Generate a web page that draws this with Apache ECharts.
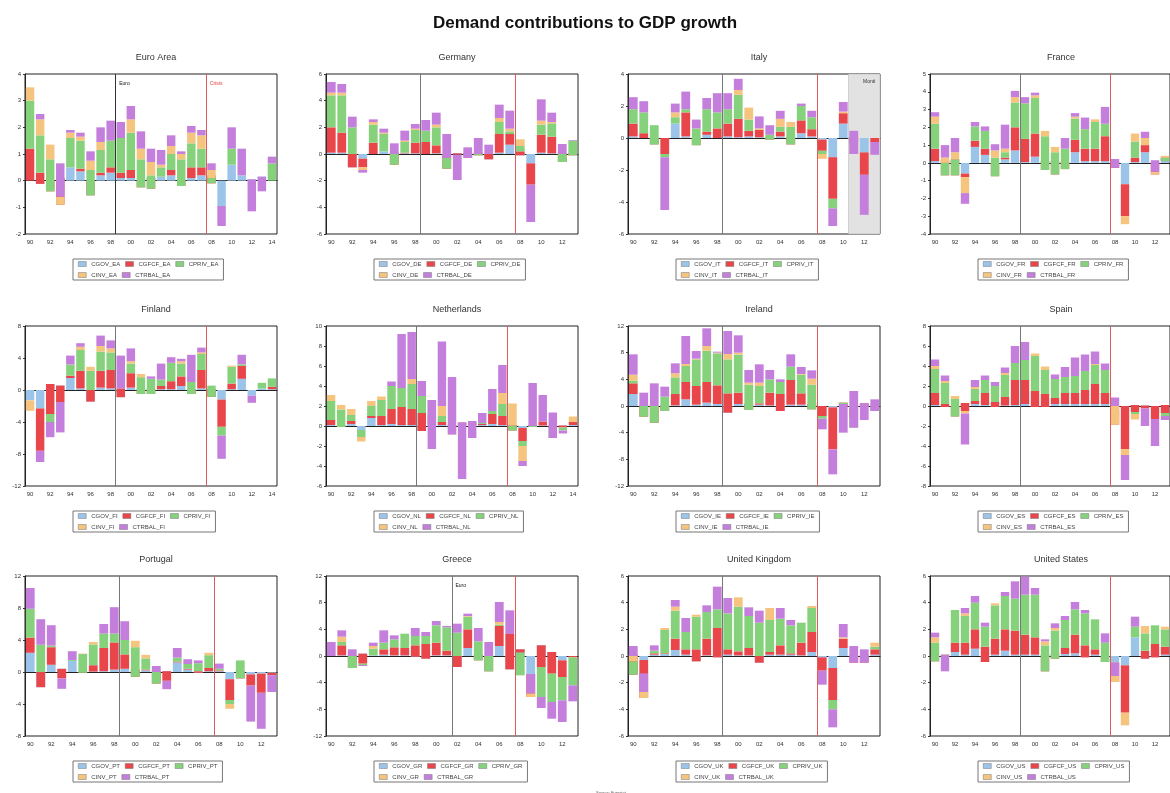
<!DOCTYPE html>
<html>
<head>
<meta charset="utf-8">
<script src="https://cdn.jsdelivr.net/npm/echarts@6/dist/echarts.min.js"></script>
<style>html,body{margin:0;padding:0;background:#fff}#main{width:1170px;height:793px}</style>
</head>
<body>
<div id="main"></div>
<script>
var chart = echarts.init(document.getElementById('main'));

var years = ['1990','1991','1992','1993','1994','1995','1996','1997','1998','1999','2000','2001','2002',
             '2003','2004','2005','2006','2007','2008','2009','2010','2011','2012','2013','2014'];
var parts = ['CGOV', 'CGFCF', 'CPRIV', 'CINV', 'CTRBAL'];
var colors = ['#9cc4e8', '#e8464b', '#86d27c', '#f5c47e', '#c47fdc'];

// contributions, one row per year from 1990, columns in the order of parts
var EA = [[0,1.2,1.8,0.5,0],[-0.12,0.42,1.4,0.6,0.2],[0,-0.4,1.2,0.55,0],[0.1,-1.0,0,0.3,1.25],[0.5,0,1.1,0.2,0.1],
  [0.35,0.1,1.05,0.15,0.15],[0,-0.55,0.95,0.35,0.35],[0.2,0.1,0.85,0.3,0.55],[0.3,0.2,1.0,0,0.75],[0.1,0.2,1.3,0,0.6],
  [0.1,0.3,1.4,0.5,0.5],[0,-0.25,1.05,0.4,0.65],[0.1,-0.4,0.5,0.5,0.5],[0.15,0,0.35,0.1,0.55],[0.2,0.2,0.6,0.3,0.4],
  [0,-0.2,1.0,0.2,0.1],[0.1,0.4,0.9,0.4,0.25],[0.2,0.3,0.7,0.5,0.2],[0.2,-0.3,0.2,0.3,0.25],[-0.95,0,0,0,-0.75],
  [0.6,0,0.6,0,0.8],[0.2,0,0,0,1.0],[0.05,0,0,0,-1.2],[0.15,0,0,0,-0.55],[0,0,0.65,0,0.25]];
var DE = [[0.1,1.9,2.4,0.2,0.8],[0.1,1.5,2.8,0.2,0.65],[-1.0,1.0,2.0,0,0.8],[-0.35,-0.65,0,-0.2,-0.2],[0,0.85,1.35,0.2,0.2],
  [0.2,0,1.3,0.1,0.3],[0.1,-0.9,0.8,0,0.8],[0.05,0.05,0.8,0.1,0.75],[0.05,0.8,0.95,0.1,0.35],[0,0.9,0.85,0,0.8],
  [0.05,0.6,1.35,0.2,0.9],[0,-1.1,0.8,0,1.8],[0.05,-0.1,0,0,-1.9],[0.05,-0.15,-0.2,0,0.8],[0.1,-0.2,0.1,0,1.2],
  [-0.4,0.4,0,0,0.7],[0.1,1.4,0.9,0.3,1.0],[0.7,0.8,0.2,0.2,1.35],[-0.1,0.3,0.4,0.5,0],[-0.7,-1.6,0,0,-2.8],
  [0.1,1.35,0.75,0.3,1.6],[0.05,1.25,1.0,0.1,0.7],[0.05,-0.65,0.6,0,0.75],[0.05,-0.15,1.1,0,0.05]];
var IT = [[0.1,0.8,0.9,0,0.75],[0,0.3,1.3,0,0.7],[0,-0.4,1.2,0,0],[0,-1.0,-0.2,0,-3.3],[0.9,0,0.4,0.3,0.55],
  [0.1,1.5,0.2,0,1.1],[0,-0.45,1.05,0,0.55],[0.2,0.2,1.4,0,0.7],[0,0.6,1.0,0,1.2],[0.1,0.8,0.9,0,1.0],
  [0.05,1.15,1.5,0.3,0.7],[0.1,0.35,0.7,0.75,0],[0.05,0.45,0,0.1,0.75],[0.05,-0.15,0.3,0,0.6],[0.1,0.3,0.3,0.5,0.5],
  [0.05,-0.45,1.1,0.3,0],[0.3,0.8,0.9,0,0.15],[0.1,0.45,0.75,0,0.4],[-0.1,-0.7,-0.2,-0.3,0],[-1.2,-2.6,-0.6,0,-1.1],
  [0.9,0.65,0,0.1,0.6],[0.05,-0.3,-0.2,-0.55,1.45],[-0.9,-1.4,0,0,-2.5],[0,-0.25,0,0,-0.8]];
var FR = [[0.1,0.7,1.4,0.4,0.25],[0.15,-0.85,0.7,0.3,0.7],[0.2,-0.9,0.9,0.4,0.8],[-0.6,-0.2,0,-0.9,-0.6],[0.9,0.35,0.8,0,0.25],
  [0.45,0.35,1.0,0,0.25],[0,-0.75,1.05,0.4,0.35],[0.2,0.1,0.3,0.2,1.35],[0.7,1.3,1.4,0.3,0.35],[0.05,1.3,2.0,0,0.35],
  [0.35,1.3,2.0,0.15,0.15],[0.1,-0.5,1.9,0.3,0],[0.1,-0.75,1.25,0.3,0],[0.05,-0.4,1.15,0,0.6],[0.6,0.7,1.2,0.1,0.2],
  [0.1,0.7,1.1,0,0.65],[0.1,0.7,1.5,0.15,0],[0.1,1.4,0.7,0,0.95],[0.05,-0.33,0,0,0.5],[-1.2,-1.8,0,-0.45,0],
  [0.05,0.25,0.9,0.45,0],[0.6,0.4,0,0.4,0.35],[0.05,-0.7,0,0.15,0.65],[0.3,-0.2,0.2,0.1,0]];
var FI = [[-1.3,0,0,-1.3,0],[-2.3,-5.3,0,0,-1.4],[0.75,-3.75,-1.0,0,-1.9],[0.55,-2.05,0,0,-3.8],[1.5,0.3,1.4,0,1.1],
  [0.2,2.2,2.6,0.4,0.45],[-1.45,1.45,2.4,0.5,0],[0.3,2.1,2.4,0.7,1.3],[0.2,2.3,2.2,0.5,1.0],[-0.9,1.1,0,0,4.1],
  [0.3,1.8,1.2,0.3,1.6],[0.1,-0.6,2.1,0.4,0],[0.1,-0.6,1.9,0,0.3],[0.1,0.4,0.8,0,2.0],[0.1,1.0,2.3,0,0.7],
  [0.5,1.2,1.6,0.3,0.3],[0.1,-0.6,1.5,0,3.4],[0.2,2.3,2.0,0.2,0.6],[0.1,-0.95,1.4,0,0],[-1.2,-3.4,-1.1,0,-2.9],
  [0.1,0.7,2.1,0.15,0],[1.4,1.6,0.2,0,1.2],[-0.7,0,0,0,-0.9],[0.2,0,0.7,0,0],[0.1,0.3,1.05,0,0]];
var NL = [[0.1,0.5,1.9,0.6,0],[0.05,-0.15,1.75,0.45,0],[0.2,0.3,0.6,0.6,0],[-0.4,0,-0.7,-0.45,0],[0.8,0.2,1.0,0.5,0],
  [0.1,0.9,1.6,0.35,0],[0.2,1.5,2.3,0,0.45],[0.1,1.8,1.9,0,5.4],[0.1,1.6,2.5,0.5,4.7],[-0.5,1.8,1.7,0,1.5],
  [0.2,0.9,1.5,0,-4.9],[0.1,0.3,0.6,1.0,6.45],[0.1,-0.2,-0.3,-0.45,5.75],[0.1,0.25,0,0,-5.65],[0.1,0.2,0.2,0,-1.7],
  [0.1,0.1,0.1,0,1.0],[0.2,1.0,0.3,0,2.2],[0.1,0.9,1.2,1.1,2.8],[0.1,-0.55,0.5,2.2,0],[-0.2,-1.3,-0.5,-1.5,-0.5],
  [0.1,-0.2,0.1,0,4.3],[0.05,0.4,0,0,2.65],[0.05,-0.3,-0.95,0,2.55],[0.05,-0.2,-0.3,0,-0.3],[0.1,0.3,0,0.55,0]];
var IE = [[1.8,1.6,0.4,0.9,3.05],[0.1,-1.7,1.6,0,2.0],[0,-2.5,2.5,0,3.4],[0.1,-0.85,2.15,0,1.5],[0.1,1.7,2.5,0.6,1.5],
  [1.0,2.6,2.4,0.3,4.2],[0.2,2.8,4.0,0.1,1.15],[0.5,3.1,4.7,0.7,2.65],[0.3,2.8,4.8,0.1,0.15],[-1.0,2.9,5.1,0.8,3.45],
  [0.3,1.7,5.7,0.3,2.6],[0.3,-0.9,3.8,0.3,1.9],[0.2,0.2,2.6,0.5,2.75],[0.1,1.9,2.0,0,1.4],[-0.75,2.55,1.8,0,0.4],
  [0.2,3.7,2.0,0,1.85],[0.2,1.7,2.8,0.1,1.05],[0.3,-0.8,3.7,0.9,1.25],[0,-1.5,-0.4,0,-1.6],[-0.2,-6.3,0,0,-3.75],
  [0,0.5,-0.2,0,-4.3],[-0.3,-1.5,-1.45,0,5.5],[0.1,0.3,0,0,-2.5],[0.1,-0.3,-0.55,0,1.75]];
var ES = [[0.1,1.2,2.4,0.3,0.65],[-0.1,0.3,2.1,0.2,0.55],[0,-1.05,1.75,0.3,0],[0.3,-0.8,0,-0.25,-3.1],[0.2,0.3,1.2,0.2,0.7],
  [0.1,1.2,1.3,0,0.45],[-0.1,0.5,1.6,0,0.4],[0.05,0.85,2.2,0.2,0.55],[0.1,2.5,1.7,0,1.7],[0.2,2.4,2.0,0,1.8],
  [-0.1,1.6,3.5,0.25,0],[-0.1,1.3,2.4,0.35,0],[0.2,0.6,1.9,0,0.45],[0.2,1.1,1.6,0,1.0],[0.2,1.1,1.7,0,1.85],
  [0.2,1.4,1.9,0,1.65],[0.2,2.0,1.9,0.1,1.25],[0.2,1.1,2.3,0,0.65],[-0.4,-1.45,0,1.85,0.85],[0,-4.3,0,-0.6,-2.5],
  [0.1,-0.7,-0.2,-0.55,0],[0.05,-0.3,0,0,-1.75],[0,-1.3,0,0,-2.7],[0.1,-0.8,-0.3,0,-0.4]];
var PT = [[2.4,1.9,3.6,0,2.6],[-1.9,1.9,3.4,0,3.2],[0.9,2.2,0.2,0,2.55],[0.4,-1.2,0,0,-1.3],[1.4,0,0.1,0,1.1],
  [0.05,-0.15,2.35,0.05,0],[0.05,0.8,2.6,0.3,0],[0.1,2.9,1.8,0,1.2],[0.3,3.4,1.1,0,3.3],[0.4,1.8,1.8,0,2.35],
  [0.3,-0.9,3.7,0.8,0],[0.2,0.1,1.4,0.45,0],[0.1,-1.55,1.45,0,0.75],[0.1,-1.2,0,0,-1.05],[1.2,0.1,0.5,0,1.2],
  [0.3,0.1,0.6,0,0.6],[-0.1,0.2,1.0,0,0.35],[0.1,0.4,1.6,0.3,0],[0.1,0.1,0.2,0,0.65],[-0.9,-2.6,-0.5,-0.6,0],
  [0.1,-0.9,2.25,0,0],[-0.3,-1.4,0,0,-4.5],[-0.2,-2.4,0,0,-4.5],[-0.1,-0.3,0,0,-2.1]];
var GR = [[0,0,0,0,2.1],[0.1,1.5,0.5,0.8,0.95],[0.1,-1.9,1.8,0,1.0],[0.35,-1.5,-0.2,0,-0.15],[0.1,0,1.0,0.4,0.5],
  [0.2,0.8,1.0,0,1.85],[0.1,1.2,1.2,0,0.6],[0.1,1.1,2.15,0,0],[-0.1,1.7,1.4,0,1.2],[-0.4,2.2,1.2,0,0.6],
  [0.1,1.9,2.6,0,0.65],[0.1,0.7,3.5,0,0.2],[-1.65,1.65,3.5,0,1.35],[1.2,2.8,1.9,0.1,0.35],[0.2,-0.85,2.85,0,2.0],
  [0,-2.3,2.3,0,2.1],[1.5,3.0,0.2,0.4,3.0],[-2.0,5.3,0,0,3.55],[1.0,-0.5,-3.4,0,0],[-2.7,-3.45,0,0.55,2.9],
  [1.6,-3.25,-4.5,0,-1.65],[0.6,-3.25,-4.25,0,-2.5],[-0.65,-2.5,-3.5,0,-3.25],[0,-0.2,-4.2,0,-2.4]];
var UK = [[0.1,-1.5,1.0,0.4,0.75],[-0.3,-2.85,0,0.45,1.4],[0.1,0.1,0.2,0,0.4],[0.15,0.05,1.75,0.15,0],[0.45,0.85,2.1,0.3,0.5],
  [0.1,0.4,1.3,0,1.05],[-0.4,0.9,2.45,0.15,0],[0.05,1.25,2.0,0,0.5],[-0.1,2.2,1.4,0,1.7],[0.1,0.4,2.7,0,1.15],
  [0.05,0.3,3.35,0.7,0],[0.05,0.55,2.4,0,0.65],[-0.5,0.5,2.5,0,0.9],[0.1,0.2,2.4,0.9,0],[0.1,0.7,2.0,0,0.8],
  [0.1,0.1,2.1,0,0.4],[0.05,0.95,1.5,0,0],[0.3,1.5,1.8,0.15,0],[-0.1,-1.0,0,0,-1.05],[-0.9,-2.4,-0.7,0,-1.35],
  [0.6,0.7,0,0.1,1.0],[0.05,-0.55,0,0,1.25],[0.05,-0.55,0,0,1.0],[0.1,0.4,0.2,0.3,0]];
var US = [[0,-0.4,1.4,0.4,0.35],[0.1,-0.05,0,0,-1.2],[0.3,0.7,2.45,0,0],[0.1,0.9,2.0,0.2,0.4],[0.55,1.45,2.0,0,0.5],
  [-0.45,1.15,1.5,0,0.3],[0.1,1.2,2.5,0.15,0],[0.4,1.6,2.5,0,0.3],[0.1,1.8,2.4,0,1.3],[0.1,1.5,3.0,0,1.35],
  [0.1,1.3,3.2,0,0.5],[0.1,-1.25,1.95,0.3,0.15],[0.2,-0.4,2.1,0.2,0.35],[0.15,0.45,2.1,0,0.3],[0.2,1.4,1.9,0,0.55],
  [-0.1,0.9,2.4,0,0.25],[0.1,0.4,2.25,0,0],[0,-0.45,1.45,0,0.7],[-0.5,-1.45,0,0.45,1.0],[-0.7,-3.55,0,-0.95,0],
  [1.4,0,0.8,0,0.75],[-0.2,0.6,1.3,0.55,0],[-0.1,1.0,1.4,0,0],[0.1,0.6,1.3,0.2,0]];

var panels = [
  {name: 'Euro Area', code: 'EA', rows: EA, min: -2, max: 4, step: 1, euro: 1999, tags: true},
  {name: 'Germany', code: 'DE', rows: DE, min: -6, max: 6, step: 2, euro: 1999},
  {name: 'Italy', code: 'IT', rows: IT, min: -6, max: 4, step: 2, euro: 1999, monti: 2011},
  {name: 'France', code: 'FR', rows: FR, min: -4, max: 5, step: 1, euro: 1999},
  {name: 'Finland', code: 'FI', rows: FI, min: -12, max: 8, step: 4, euro: 1999},
  {name: 'Netherlands', code: 'NL', rows: NL, min: -6, max: 10, step: 2, euro: 1999},
  {name: 'Ireland', code: 'IE', rows: IE, min: -12, max: 12, step: 4, euro: 1999},
  {name: 'Spain', code: 'ES', rows: ES, min: -8, max: 8, step: 2, euro: 1999},
  {name: 'Portugal', code: 'PT', rows: PT, min: -8, max: 12, step: 4, euro: 1999},
  {name: 'Greece', code: 'GR', rows: GR, min: -12, max: 12, step: 4, euro: 2002, euroTag: true},
  {name: 'United Kingdom', code: 'UK', rows: UK, min: -6, max: 6, step: 2, euro: 1999},
  {name: 'United States', code: 'US', rows: US, min: -6, max: 6, step: 2, euro: 1999}
];
var crisis = 2008;

var colLeft = [25, 326, 628, 930];
var rowTop = [74, 326, 576];
var plotW = 252, plotH = 160;

var grids = [], xAxes = [], yAxes = [], series = [], legends = [];
var titles = [
  {text: 'Demand contributions to GDP growth', left: 'center', top: 10,
   textStyle: {fontSize: 17, fontWeight: 'bold', color: '#111'}},
  {text: 'Source: Eurostat', left: 591, top: 786, textStyle: {fontSize: 4, fontWeight: 'normal', color: '#555'}}
];

panels.forEach(function (p, i) {
  var left = colLeft[i % 4], top = rowTop[Math.floor(i / 4)];
  var n = p.rows.length;
  var cx = left + plotW / 2;
  var names = parts.map(function (c) { return c + '_' + p.code; });

  titles.push({text: p.name, left: cx, top: top - 26, textAlign: 'center',
    textStyle: {fontSize: 9, fontWeight: 'normal', color: '#333'}});

  grids.push({left: left, top: top, width: plotW, height: plotH, show: true,
    borderColor: '#222', borderWidth: 1});

  xAxes.push({type: 'category', gridIndex: i, data: years.slice(0, n),
    axisLine: {lineStyle: {color: '#222'}},
    axisTick: {interval: 0, length: 2, lineStyle: {color: '#333'}},
    axisLabel: {interval: 1, fontSize: 6, margin: 5, color: '#333',
      formatter: function (v) { return v.slice(2); }}});
  xAxes.push({type: 'value', gridIndex: i, min: 0, max: n, show: false});

  yAxes.push({type: 'value', gridIndex: i, min: p.min, max: p.max, interval: p.step,
    axisLine: {show: true, lineStyle: {color: '#222'}},
    axisTick: {show: true, length: 2, lineStyle: {color: '#333'}},
    axisLabel: {fontSize: 6, margin: 4, color: '#333'},
    splitLine: {show: false}});

  names.forEach(function (nm, k) {
    series.push({name: nm, type: 'bar', xAxisIndex: 2 * i, yAxisIndex: i,
      stack: 'p' + i, stackStrategy: 'all', barWidth: '84%',
      itemStyle: {color: colors[k]}, emphasis: {disabled: true},
      data: p.rows.map(function (r) { return r[k]; })});
  });

  var lines = [
    {xAxis: p.euro - 1990, lineStyle: {color: i === 0 ? '#333' : '#777'}},
    {xAxis: crisis - 1990, lineStyle: {color: '#e05a5a'}}
  ];
  var tagY = p.max - (p.max - p.min) * 0.06;
  var tags = [];
  if (p.tags || p.euroTag) tags.push({name: 'Euro', coord: [p.euro - 1990, tagY], label: {color: '#111'}});
  if (p.tags) tags.push({name: 'Crisis', coord: [crisis - 1990, tagY], label: {color: '#e04040'}});

  var marker = {type: 'line', xAxisIndex: 2 * i + 1, yAxisIndex: i, data: [], silent: true, z: 1,
    markLine: {symbol: 'none', silent: true, label: {show: false},
      lineStyle: {type: 'solid', width: 1}, data: lines}};
  if (tags.length) {
    marker.markPoint = {symbol: 'circle', symbolSize: 1, silent: true,
      itemStyle: {color: 'rgba(0,0,0,0)'},
      label: {show: true, position: 'right', distance: 3, fontSize: 5, formatter: '{b}'},
      data: tags};
  }
  if (p.monti) {
    marker.markArea = {silent: true,
      itemStyle: {color: '#e2e2e2', borderColor: '#b0b0b0', borderWidth: 0.5},
      label: {show: true, position: 'insideTopRight', distance: 5, fontSize: 5, color: '#333'},
      data: [[{name: 'Monti', xAxis: p.monti - 1990}, {xAxis: n}]]};
  }
  series.push(marker);

  legends.push({data: names, left: cx - 78, top: top + plotH + 25, width: 158,
    orient: 'horizontal', icon: 'rect', itemWidth: 8, itemHeight: 5, itemGap: 5,
    padding: [2, 5], borderColor: '#777', borderWidth: 1, selectedMode: false,
    itemStyle: {borderColor: '#777', borderWidth: 0.5},
    textStyle: {fontSize: 6, color: '#444'}});
});

var option = {
  animation: false,
  textStyle: {fontFamily: 'Liberation Sans, Arial, sans-serif'},
  title: titles,
  legend: legends,
  grid: grids,
  xAxis: xAxes,
  yAxis: yAxes,
  series: series
};

chart.setOption(option);
</script>
</body>
</html>
